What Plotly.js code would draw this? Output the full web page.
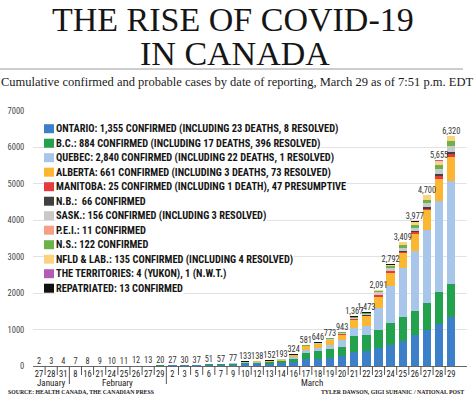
<!DOCTYPE html>
<html><head><meta charset="utf-8">
<script src="https://cdn.plot.ly/plotly-3.0.1.min.js"></script>
<style>html,body{margin:0;padding:0;background:#fff;}#chart{width:474px;height:399px;}</style>
</head><body><div id="chart"></div>
<script>
// ---- data ----
const monthNames = ["January", "February", "March"];
const monthCounts = [3, 8, 24];
const dayLabels = ["27","28","31","8","16","21","24","25","26","27","29",
  "2","3","5","6","7","9","10","12","13","14","16","17","18","19","20","21","22","23","24","25","26","27","28","29"];
const categories = ["Jan 27","Jan 28","Jan 31","Feb 8","Feb 16","Feb 21","Feb 24","Feb 25","Feb 26","Feb 27","Feb 29",
  "Mar 2","Mar 3","Mar 5","Mar 6","Mar 7","Mar 9","Mar 10","Mar 12","Mar 13","Mar 14","Mar 16","Mar 17","Mar 18","Mar 19","Mar 20",
  "Mar 21","Mar 22","Mar 23","Mar 24","Mar 25","Mar 26","Mar 27","Mar 28","Mar 29"];
const totals = [2,3,4,7,8,9,10,11,12,13,20,27,30,37,51,57,77,133,138,152,193,324,581,646,773,943,1367,1473,2091,2792,3409,3977,4700,5655,6320];

const ontario     = [2,2,3,3,3,3,4,5,5,6,11,18,20,22,28,28,34,42,46,54,72,103,180,185,224,262,394,425,503,588,688,858,993,1144,1355];
const bc          = [0,1,1,4,5,6,6,6,7,7,8,8,9,13,21,27,32,46,46,46,54,103,186,224,237,271,424,424,472,604,659,659,725,884,884];
const quebec      = [0,0,0,0,0,0,0,0,0,0,1,1,1,2,2,2,4,13,13,17,24,39,74,94,121,181,221,257,628,1013,1339,1629,2021,2498,2840];
const alberta     = [0,0,0,0,0,0,0,0,0,0,0,0,0,0,0,0,7,19,19,19,23,44,97,97,119,146,226,256,301,358,419,486,542,621,661];
const manitoba    = [0,0,0,0,0,0,0,0,0,0,0,0,0,0,0,0,0,0,0,0,4,7,7,8,15,17,18,20,33,35,35,36,39,64,72];
const nb          = [0,0,0,0,0,0,0,0,0,0,0,0,0,0,0,0,0,0,1,1,1,6,8,8,11,11,17,17,17,17,18,26,33,51,66];
const sask        = [0,0,0,0,0,0,0,0,0,0,0,0,0,0,0,0,0,0,0,2,2,7,7,8,16,20,26,26,66,72,86,95,111,134,156];
const pei         = [0,0,0,0,0,0,0,0,0,0,0,0,0,0,0,0,0,0,0,0,0,1,1,1,2,2,3,3,3,3,3,5,9,11,11];
const ns          = [0,0,0,0,0,0,0,0,0,0,0,0,0,0,0,0,0,0,0,0,0,0,5,5,12,14,15,21,28,51,68,84,90,110,122];
const nfld        = [0,0,0,0,0,0,0,0,0,0,0,0,0,0,0,0,0,0,0,0,0,1,3,3,3,6,9,9,24,35,77,82,120,120,135];
const territories = [0,0,0,0,0,0,0,0,0,0,0,0,0,0,0,0,0,0,0,0,0,0,0,0,0,0,1,2,3,3,4,4,4,5,5];
const repatriated = [0,0,0,0,0,0,0,0,0,0,0,0,0,0,0,0,0,13,13,13,13,13,13,13,13,13,13,13,13,13,13,13,13,13,13];

const seriesNames = ["Ontario","B.C.","Quebec","Alberta","Manitoba","N.B.","Sask.","P.E.I.","N.S.","Nfld & Lab.","Territories","Repatriated"];
const legendLabels = [
  "ONTARIO: 1,355 CONFIRMED (INCLUDING 23 DEATHS, 8 RESOLVED)",
  "B.C.: 884 CONFIRMED (INCLUDING 17 DEATHS, 396 RESOLVED)",
  "QUEBEC: 2,840 CONFIRMED (INCLUDING 22 DEATHS, 1 RESOLVED)",
  "ALBERTA: 661 CONFIRMED (INCLUDING 3 DEATHS, 73 RESOLVED)",
  "MANITOBA: 25 CONFIRMED (INCLUDING 1 DEATH), 47 PRESUMPTIVE",
  "N.B.:  66 CONFIRMED",
  "SASK.: 156 CONFIRMED (INCLUDING 3 RESOLVED)",
  "P.E.I.: 11 CONFIRMED",
  "N.S.: 122 CONFIRMED",
  "NFLD &amp; LAB.: 135 CONFIRMED (INCLUDING 4 RESOLVED)",
  "THE TERRITORIES: 4 (YUKON), 1 (N.W.T.)",
  "REPATRIATED: 13 CONFIRMED"
];
const seriesValues = [ontario, bc, quebec, alberta, manitoba, nb, sask, pei, ns, nfld, territories, repatriated];
const seriesColors = ["#3b80c8","#22a24c","#a7c6ea","#fbb632","#e73a3d","#404040","#c9c9c9","#f4a089","#6cb24a","#fcd37c","#b35bb6","#111111"];

const titleLine1 = "THE RISE OF COVID-19";
const titleLine2 = "IN CANADA";
const subtitle = "Cumulative confirmed and probable cases by date of reporting, March 29 as of 7:51 p.m. EDT";
const sourceText = "SOURCE: HEALTH CANADA, THE CANADIAN PRESS";
const creditText = "TYLER DAWSON, GIGI SUHANIC / NATIONAL POST";

// ---- layout helpers ----
const W = 474, H = 399;
const M = {l: 33, r: 7, t: 111, b: 33};
const PW = W - M.l - M.r, PH = H - M.t - M.b;
const px2x = px => (px - M.l) / PW;
const px2y = py => (H - M.b - py) / PH;

const NARROW = "'Liberation Sans Narrow', 'Roboto Condensed', Arial, 'Liberation Sans', sans-serif";
const SERIF = "'Liberation Serif', 'DejaVu Serif', serif";

const traces = seriesValues.map((vals, i) => ({
  type: "bar", name: seriesNames[i], x: categories, y: vals,
  marker: {color: seriesColors[i], line: {width: 0}},
  hoverinfo: "x+y+name", showlegend: false
}));
traces.push({
  type: "scatter", mode: "text", x: categories, y: totals,
  text: totals.map(v => v.toLocaleString("en-US")),
  textposition: "top center", cliponaxis: false,
  textfont: {family: NARROW, size: 8.3, color: "#333"},
  hoverinfo: "skip", showlegend: false
});

const shapes = [];
const annotations = [];

// title block
annotations.push({xref: "paper", yref: "paper", x: px2x(233), y: px2y(20), xanchor: "center", yanchor: "middle",
  text: titleLine1, showarrow: false, font: {family: SERIF, size: 34, color: "#151515"}});
annotations.push({xref: "paper", yref: "paper", x: px2x(235), y: px2y(54), xanchor: "center", yanchor: "middle",
  text: titleLine2, showarrow: false, font: {family: SERIF, size: 34, color: "#151515"}});
shapes.push({type: "line", xref: "paper", yref: "paper", x0: px2x(0), x1: px2x(463), y0: px2y(69), y1: px2y(69),
  line: {color: "#9a9a9a", width: 1}});
annotations.push({xref: "paper", yref: "paper", x: px2x(237), y: px2y(82.5), xanchor: "center", yanchor: "middle",
  text: subtitle, showarrow: false, font: {family: SERIF, size: 12.5, color: "#1a1a1a"}});

// legend (drawn manually, compact rows)
legendLabels.forEach((lab, i) => {
  const cy = 128.7 + 14.5 * i;
  shapes.push({type: "rect", xref: "paper", yref: "paper", x0: px2x(44), x1: px2x(54), y0: px2y(cy - 4.5), y1: px2y(cy + 4.5),
    fillcolor: seriesColors[i], line: {width: 0}});
  annotations.push({xref: "paper", yref: "paper", x: px2x(54.5), y: px2y(cy), xanchor: "left", yanchor: "middle",
    text: "<b>" + lab + "</b>", showarrow: false, bgcolor: "#ffffff", borderpad: 0,
    font: {family: NARROW, size: 10.4, color: "#151515"}});
});

// x-axis boundary ticks and month dividers
const dividers = [];
let acc = 0;
monthCounts.forEach((n, m) => {
  annotations.push({xref: "x", yref: "paper", x: acc + (n - 1) / 2, y: px2y(382.5), xanchor: "center", yanchor: "middle",
    text: monthNames[m], showarrow: false, font: {family: NARROW, size: 9, color: "#222"}});
  acc += n;
  if (m < monthCounts.length - 1) dividers.push(acc - 0.5);
});
for (let i = 0; i < categories.length - 1; i++) {
  const b = i + 0.5;
  const isDiv = dividers.indexOf(b) >= 0;
  shapes.push({type: "line", xref: "x", yref: "paper", x0: b, x1: b, y0: 0, y1: px2y(isDiv ? 384 : 375),
    line: {color: "#555", width: 1}});
}

// footer
annotations.push({xref: "paper", yref: "paper", x: px2x(6), y: px2y(392), xanchor: "left", yanchor: "middle",
  text: "<b>" + sourceText + "</b>", showarrow: false, font: {family: SERIF, size: 5.8, color: "#222"}});
annotations.push({xref: "paper", yref: "paper", x: px2x(466), y: px2y(392), xanchor: "right", yanchor: "middle",
  text: "<b>" + creditText + "</b>", showarrow: false, font: {family: SERIF, size: 5.8, color: "#222"}});

const layout = {
  width: W, height: H, margin: M,
  paper_bgcolor: "#fff", plot_bgcolor: "#fff",
  barmode: "stack", bargap: 0.31,
  showlegend: false,
  xaxis: {type: "category", range: [-0.5, 35.3], tickvals: categories, ticktext: dayLabels, tickangle: 0,
    ticks: "", showgrid: false, showline: true, linecolor: "#666", linewidth: 1, zeroline: false,
    tickfont: {family: NARROW, size: 8.5, color: "#222"}, fixedrange: true},
  yaxis: {range: [0, 7000], dtick: 1000, tick0: 0, tickformat: "d", showgrid: true, gridcolor: "#e2e2e2", gridwidth: 1,
    zeroline: false, showline: false, ticks: "outside", ticklen: 6, tickcolor: "rgba(0,0,0,0)",
    tickfont: {family: NARROW, size: 8.5, color: "#444"}, fixedrange: true},
  shapes: shapes, annotations: annotations
};

Plotly.newPlot("chart", traces, layout, {staticPlot: true, displayModeBar: false});
</script></body></html>
